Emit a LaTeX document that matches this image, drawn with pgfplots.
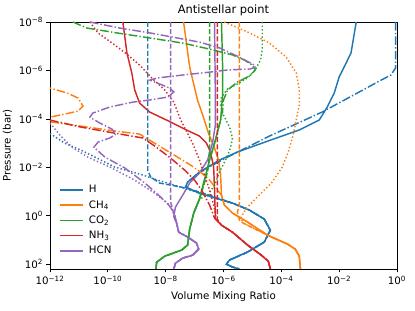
\documentclass[border=0pt]{standalone}
\usepackage{fontspec}
\setmainfont{DejaVu Sans}
\usepackage{pgfplots}
\pgfplotsset{compat=1.18}
\definecolor{cH}{HTML}{1F77B4}
\definecolor{cCH}{HTML}{FF7F0E}
\definecolor{cCO}{HTML}{2CA02C}
\definecolor{cNH}{HTML}{D62728}
\definecolor{cHCN}{HTML}{9467BD}
\tikzset{
  dsh/.style={dash pattern=on 5bp off 2.2bp},
  dot/.style={dash pattern=on 1.4bp off 2.2bp},
  dd/.style={dash pattern=on 8.6bp off 2.2bp on 1.4bp off 2.2bp},
}
\newcommand{\fs}{\fontsize{10.3}{12}\selectfont}
\begin{document}
\begin{tikzpicture}
\begin{axis}[
  name=ax, scale only axis, width=347bp, height=247bp,
  xmin=-12, xmax=0, ymin=-8, ymax=2.2, y dir=reverse,
  xtick={-12,-10,-8,-6,-4,-2,0},
  xticklabels={10\textsuperscript{−12},10\textsuperscript{−10},10\textsuperscript{−8},10\textsuperscript{−6},10\textsuperscript{−4},10\textsuperscript{−2},10\textsuperscript{0}},
  ytick={-8,-6,-4,-2,0,2},
  yticklabels={10\textsuperscript{−8},10\textsuperscript{−6},10\textsuperscript{−4},10\textsuperscript{−2},10\textsuperscript{0},10\textsuperscript{2}},
  tick align=outside, tick pos=left, major tick length=3.5bp,
  every tick/.style={black, line width=0.7bp},
  axis line style={line width=0.7bp},
  tick label style={font=\fs},
  xlabel style={font=\fs},
  ylabel style={font=\fs},
  title style={font=\fontsize{11.5}{13}\selectfont, yshift=-3.5bp},
  title={Antistellar point},
  xlabel={Volume Mixing Ratio},
  ylabel={Pressure (bar)},
  legend style={draw=none, fill=none, at={(0.022,0.042)}, anchor=south west,
    font=\fs, row sep=2.2bp, inner sep=1bp},
  legend cell align=left,
  legend image code/.code={\draw[#1, line width=1.6bp] (0bp,0bp) -- (23bp,0bp);},
  every axis plot post/.append style={line width=1.45bp},
]
% ---- solid (legend) ----
\addplot[cH, mark=none] coordinates {(-1.41,-8) (-1.59,-6.72) (-2.0,-5.73) (-2.17,-5.07) (-2.41,-4.49) (-2.69,-3.95) (-3.38,-3.54) (-4.38,-3.12) (-5.52,-2.63) (-6.14,-2.30) (-6.83,-1.80) (-7.24,-1.39) (-7.31,-1.18) (-6.83,-0.93) (-5.69,-0.52) (-5.10,-0.23) (-4.59,0.14) (-4.38,0.60) (-4.59,1.09) (-5.17,1.50) (-5.79,1.83) (-5.90,2.0) (-5.69,2.12) (-5.45,2.2)};
\addlegendentry{\hspace{3.5bp}H}
\addplot[cCH, mark=none] coordinates {(-7.38,-8) (-7.17,-6.14) (-6.90,-4.78) (-6.72,-4.16) (-6.52,-3.41) (-6.31,-2.79) (-6.17,-2.30) (-6.10,-1.68) (-6.07,-0.85) (-5.97,-0.44) (-5.69,-0.11) (-5.17,0.26) (-4.48,0.80) (-3.79,1.17) (-3.52,1.38) (-3.38,1.67) (-3.34,2.2)};
\addlegendentry{\hspace{3.5bp}CH\textsubscript{4}}
\addplot[cCO, mark=none] coordinates {(-6.07,-8) (-6.03,-6.14) (-6.03,-4.98) (-6.10,-3.95) (-6.28,-3.12) (-6.48,-2.30) (-6.66,-1.47) (-6.83,-0.69) (-7.03,-0.11) (-7.17,0.55) (-7.24,1.21) (-7.45,1.42) (-8.03,1.67) (-8.31,1.92) (-8.34,2.2)};
\addlegendentry{\hspace{3.5bp}CO\textsubscript{2}}
\addplot[cNH, mark=none] coordinates {(-9.48,-8) (-9.34,-6.72) (-9.17,-5.89) (-9.07,-5.19) (-8.90,-4.65) (-8.55,-4.28) (-7.97,-3.95) (-7.28,-3.54) (-6.83,-3.29) (-6.59,-3.0) (-6.45,-2.63) (-6.34,-2.01) (-6.31,-1.06) (-6.28,0.14) (-6.07,0.39) (-5.69,0.68) (-5.17,1.21) (-4.69,1.63) (-4.45,1.88) (-4.38,2.2)};
\addlegendentry{\hspace{3.5bp}NH\textsubscript{3}}
\addplot[cHCN, mark=none] coordinates {(-6.31,-8) (-6.28,-4.78) (-6.28,-3.74) (-6.38,-3.0) (-6.55,-2.30) (-6.83,-1.76) (-7.17,-1.35) (-7.41,-0.85) (-7.66,-0.36) (-7.72,0.02) (-7.62,0.31) (-7.55,0.68) (-7.24,0.88) (-6.93,1.13) (-6.86,1.38) (-7.07,1.63) (-7.41,1.75) (-7.66,1.96) (-7.72,2.2)};
\addlegendentry{\hspace{3.5bp}HCN}
% ---- H ----
\addplot[cH, dsh, forget plot] coordinates {(-8.62,-8) (-8.62,-1.88) (-8.52,-1.60) (-8.21,-1.35) (-7.28,-1.14) (-6.48,-0.85) (-5.69,-0.52) (-5.10,-0.23) (-4.59,0.14) (-4.38,0.60) (-4.59,1.09) (-5.17,1.50) (-5.79,1.83) (-5.90,2.0) (-5.69,2.12) (-5.45,2.2)};
\addplot[cH, dot, forget plot] coordinates {(-12,-3.4) (-11.5,-3.0) (-10.93,-2.71) (-9.76,-2.01) (-8.79,-1.68) (-8.28,-1.47) (-7.59,-1.22) (-6.83,-0.93) (-5.69,-0.52) (-5.10,-0.23) (-4.59,0.14) (-4.38,0.60) (-4.59,1.09) (-5.17,1.50) (-5.79,1.83) (-5.90,2.0) (-5.69,2.12) (-5.45,2.2)};
\addplot[cH, dd, forget plot] coordinates {(-0.05,-8) (-0.05,-6.10) (-0.21,-5.81) (-0.55,-5.60) (-2.59,-4.28) (-4.41,-3.29) (-5.86,-2.42) (-6.83,-1.80) (-7.24,-1.39) (-7.31,-1.18) (-6.83,-0.93) (-5.69,-0.52) (-5.10,-0.23) (-4.59,0.14) (-4.38,0.60) (-4.59,1.09) (-5.17,1.50) (-5.79,1.83) (-5.90,2.0) (-5.69,2.12) (-5.45,2.2)};
% ---- CH4 ----
\addplot[cCH, dsh, forget plot] coordinates {(-5.45,-8) (-5.45,-0.44) (-5.52,-0.15) (-5.45,0.18) (-5.31,0.31) (-4.48,0.80) (-3.79,1.17) (-3.52,1.38) (-3.38,1.67) (-3.34,2.2)};
\addplot[cCH, dot, forget plot] coordinates {(-5.97,-8) (-5.10,-7.55) (-4.41,-7.13) (-3.83,-6.55) (-3.48,-5.89) (-3.38,-5.19) (-3.38,-4.57) (-3.45,-4.16) (-3.59,-3.33) (-3.76,-2.63) (-3.97,-2.01) (-4.34,-1.35) (-4.83,-0.77) (-5.21,-0.31) (-5.41,0.10) (-5.31,0.31) (-4.48,0.80) (-3.79,1.17) (-3.52,1.38) (-3.38,1.67) (-3.34,2.2)};
\addplot[cCH, dd, forget plot] coordinates {(-12.2,-5.45) (-12,-5.27) (-11.41,-5.07) (-11.03,-4.86) (-10.86,-4.53) (-11.03,-4.32) (-11.48,-4.20) (-12,-4.07) (-12.3,-3.98) (-12,-3.88) (-10.93,-3.70) (-9.76,-3.50) (-8.90,-3.37) (-8.28,-2.92) (-7.59,-2.42) (-7.14,-2.09) (-6.79,-1.80) (-6.48,-1.47) (-6.21,-1.06) (-6.07,-0.85) (-5.97,-0.44) (-5.69,-0.11) (-5.17,0.26) (-4.48,0.80) (-3.79,1.17) (-3.52,1.38) (-3.38,1.67) (-3.34,2.2)};
% ---- CO2 ----
\addplot[cCO, dsh, forget plot] coordinates {(-6.48,-8) (-6.48,-2.8) (-6.52,-2.0) (-6.62,-1.5) (-6.83,-0.69) (-7.03,-0.11) (-7.17,0.55) (-7.24,1.21) (-7.45,1.42) (-8.03,1.67) (-8.31,1.92) (-8.34,2.2)};
\addplot[cCO, dot, forget plot] coordinates {(-4.66,-8) (-4.66,-6.84) (-4.72,-6.43) (-4.90,-6.02) (-5.17,-5.69) (-5.52,-5.44) (-5.86,-5.23) (-6.07,-4.90) (-6.10,-4.57) (-6.0,-4.16) (-5.79,-3.66) (-5.69,-3.21) (-5.76,-2.79) (-5.93,-2.30) (-6.14,-1.80) (-6.31,-1.26) (-6.55,-0.85) (-6.83,-0.69) (-7.03,-0.11) (-7.17,0.55) (-7.24,1.21) (-7.45,1.42) (-8.03,1.67) (-8.31,1.92) (-8.34,2.2)};
\addplot[cCO, dd, forget plot] coordinates {(-11.21,-8) (-10.72,-7.75) (-9.69,-7.55) (-8.55,-7.34) (-7.41,-7.13) (-6.48,-6.88) (-5.69,-6.64) (-5.28,-6.43) (-5.0,-6.22) (-4.90,-6.02) (-5.10,-5.77) (-5.52,-5.52) (-5.86,-5.19) (-6.0,-4.78) (-6.03,-4.36) (-6.10,-3.95) (-6.28,-3.12) (-6.48,-2.30) (-6.66,-1.47) (-6.83,-0.69) (-7.03,-0.11) (-7.17,0.55) (-7.24,1.21) (-7.45,1.42) (-8.03,1.67) (-8.31,1.92) (-8.34,2.2)};
% ---- NH3 ----
\addplot[cNH, dsh, forget plot] coordinates {(-6.21,-8) (-6.21,0.15) (-6.07,0.39) (-5.69,0.68) (-5.17,1.21) (-4.69,1.63) (-4.45,1.88) (-4.38,2.2)};
\addplot[cNH, dot, forget plot] coordinates {(-10.62,-8) (-10.34,-7.55) (-9.76,-7.05) (-9.31,-6.64) (-8.90,-6.22) (-8.48,-5.69) (-8.03,-5.19) (-7.72,-4.69) (-7.48,-3.95) (-7.07,-3.0) (-6.83,-2.30) (-6.66,-1.68) (-6.48,-1.06) (-6.34,-0.44) (-6.24,0.18) (-6.07,0.39) (-5.69,0.68) (-5.17,1.21) (-4.69,1.63) (-4.45,1.88) (-4.38,2.2)};
\addplot[cNH, dd, forget plot] coordinates {(-12,-3.95) (-10.93,-3.66) (-9.76,-3.41) (-8.79,-3.21) (-8.38,-2.88) (-7.83,-2.38) (-7.34,-1.88) (-7.0,-1.47) (-6.76,-1.06) (-6.48,-0.44) (-6.31,0.10) (-6.07,0.39) (-5.69,0.68) (-5.17,1.21) (-4.69,1.63) (-4.45,1.88) (-4.38,2.2)};
% ---- HCN ----
\addplot[cHCN, dsh, forget plot] coordinates {(-7.83,-8) (-7.83,-0.56) (-7.76,-0.30) (-7.72,0.02) (-7.62,0.31) (-7.55,0.68) (-7.24,0.88) (-6.93,1.13) (-6.86,1.38) (-7.07,1.63) (-7.41,1.75) (-7.66,1.96) (-7.72,2.2)};
\addplot[cHCN, dot, forget plot] coordinates {(-12.2,-4.0) (-12,-3.83) (-11.66,-3.33) (-11.24,-2.83) (-10.69,-2.42) (-9.93,-2.01) (-9.07,-1.47) (-8.38,-0.93) (-7.93,-0.52) (-7.72,-0.15) (-7.72,0.02) (-7.62,0.31) (-7.55,0.68) (-7.24,0.88) (-6.93,1.13) (-6.86,1.38) (-7.07,1.63) (-7.41,1.75) (-7.66,1.96) (-7.72,2.2)};
\addplot[cHCN, dd, forget plot] coordinates {(-10.62,-8) (-9.59,-7.75) (-8.55,-7.55) (-6.83,-7.17) (-6.14,-6.93) (-5.45,-6.55) (-4.93,-6.22) (-4.90,-6.14) (-5.07,-6.06) (-5.86,-6.02) (-6.48,-5.93) (-7.41,-5.81) (-8.28,-5.69) (-8.55,-5.60) (-8.21,-5.44) (-7.86,-5.27) (-7.72,-5.11) (-7.93,-4.90) (-8.55,-4.78) (-9.14,-4.69) (-9.93,-4.49) (-10.52,-4.24) (-10.62,-4.07) (-10.28,-3.83) (-9.86,-3.58) (-9.72,-3.37) (-9.93,-3.21) (-10.34,-3.04) (-10.48,-2.83) (-10.10,-2.42) (-9.41,-1.97) (-8.72,-1.35) (-8.21,-0.81) (-7.86,-0.40) (-7.69,-0.07) (-7.62,0.31) (-7.55,0.68) (-7.24,0.88) (-6.93,1.13) (-6.86,1.38) (-7.07,1.63) (-7.41,1.75) (-7.66,1.96) (-7.72,2.2)};
\end{axis}
\pgfresetboundingbox
\path[use as bounding box] ([xshift=-50bp,yshift=-42bp]ax.south west) rectangle ([xshift=18bp,yshift=22bp]ax.north east);
\end{tikzpicture}
\end{document}
